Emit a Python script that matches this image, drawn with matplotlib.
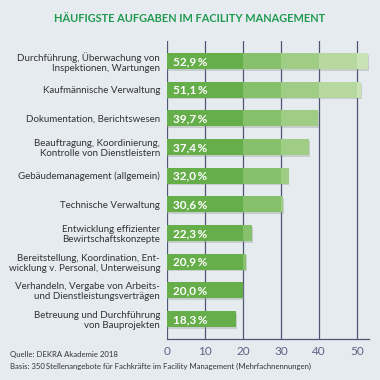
import matplotlib
matplotlib.use("Agg")
import matplotlib.pyplot as plt

# data
categories = [
    "Durchführung, Überwachung von\nInspektionen, Wartungen",
    "Kaufmännische Verwaltung",
    "Dokumentation, Berichtswesen",
    "Beauftragung, Koordinierung,\nKontrolle von Dienstleistern",
    "Gebäudemanagement (allgemein)",
    "Technische Verwaltung",
    "Entwicklung effizienter\nBewirtschaftskonzepte",
    "Bereitstellung, Koordination, Ent-\nwicklung v. Personal, Unterweisung",
    "Verhandeln, Vergabe von Arbeits-\nund Dienstleistungsverträgen",
    "Betreuung und Durchführung\nvon Bauprojekten",
]
values = [52.9, 51.1, 39.7, 37.4, 32.0, 30.6, 22.3, 20.9, 20.0, 18.3]
ticks = [0, 10, 20, 30, 40, 50]

# colour bands of the bars (lighter further right)
band_edges = [0, 20, 30, 40, 50, 100]
band_colors = ["#66ae4a", "#86c06a", "#a0cd86", "#b7d9a0", "#c9e3b6"]

bg = "#e6ebf0"
grid_col = "#4f5675"
font = ["Lato", "DejaVu Sans"]
plt.rcParams["font.family"] = font

fig = plt.figure(figsize=(3.8, 3.8), dpi=100, facecolor=bg)
ax = fig.add_axes([167 / 380, 1 - 339 / 380, 202 / 380, 298 / 380])
ax.set_facecolor(bg)

ypos = list(range(len(values)))
h = 0.55

for y, v in zip(ypos, values):
    # soft shadow
    ax.barh(y + 0.06, v + 0.25, height=h, color="#8c9a8a", alpha=0.35, zorder=2)
    for i in range(len(band_colors)):
        a, b = band_edges[i], band_edges[i + 1]
        if v > a:
            ax.barh(y, min(b, v) - a, left=a, height=h, color=band_colors[i],
                    linewidth=0, zorder=3)
    lab = f"{v:.1f}".replace(".", ",") + "\u2009%"
    ax.text(1.5, y + 0.02, lab, color="white", fontsize=8.5, fontweight="bold",
            va="center", ha="left", zorder=4)

for t in ticks:
    ax.axvline(t, color=grid_col, linewidth=0.9, zorder=1)

ax.set_xlim(0, 53.2)
ax.set_ylim(len(values) - 0.3, -0.7)
ax.set_xticks(ticks)
ax.set_xticklabels([str(t) for t in ticks], color="#5b6385", fontsize=8.5)
ax.tick_params(axis="x", length=0, pad=5)
ax.set_yticks(ypos)
ax.set_yticklabels(categories, fontsize=7, color="#333333", linespacing=1.15)
ax.tick_params(axis="y", length=0, pad=5)
for lab in ax.get_yticklabels():
    lab.set_multialignment("right")

for s in ["top", "right", "left"]:
    ax.spines[s].set_visible(False)
ax.spines["bottom"].set_color(grid_col)
ax.spines["bottom"].set_linewidth(0.9)

fig.text(0.5, 1 - 18 / 380, "HÄUFIGSTE AUFGABEN IM FACILITY MANAGEMENT",
         ha="center", va="center", color="#1f9a50", fontsize=7.9, fontweight="bold")
fig.text(10 / 380, 1 - 355 / 380, "Quelle: DEKRA Akademie 2018",
         ha="left", va="center", color="#333333", fontsize=5.6)
fig.text(10 / 380, 1 - 366 / 380,
         "Basis: 350\u2009Stellenangebote für Fachkräfte im Facility Management (Mehrfachnennungen)",
         ha="left", va="center", color="#333333", fontsize=5.6)

fig.savefig("out.png", dpi=100, facecolor=bg)
